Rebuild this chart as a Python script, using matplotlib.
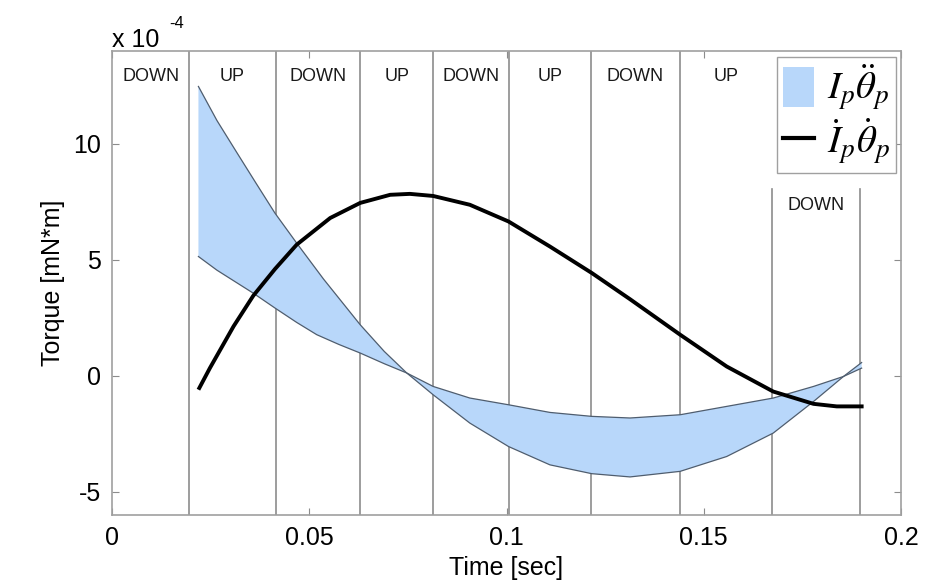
import numpy as np
import matplotlib
matplotlib.use('Agg')
import matplotlib.pyplot as plt
from matplotlib.patches import Patch
from matplotlib.lines import Line2D

plt.rcParams['font.family'] = ['Liberation Sans', 'DejaVu Sans']
plt.rcParams['mathtext.fontset'] = 'stix'

# values in units of 1e-4 mN*m
# I_p * theta_pp band: two bounding curves
t_a = [0.0219, 0.0266, 0.0316, 0.0365, 0.0413, 0.0468, 0.0536, 0.0629, 0.069, 0.0747,
       0.0814, 0.0907, 0.1005, 0.111, 0.1216, 0.1313, 0.144, 0.1558, 0.1676, 0.1778,
       0.1854, 0.19]
band_a = [12.47, 11.0, 9.63, 8.3, 7.01, 5.72, 4.17, 2.2, 1.05, 0.12,
          -0.82, -2.04, -3.05, -3.84, -4.22, -4.36, -4.12, -3.48, -2.47, -1.11,
          -0.03, 0.57]
t_b = [0.0219, 0.0266, 0.0358, 0.0413, 0.0468, 0.0519, 0.0575, 0.0629, 0.069, 0.0747,
       0.0814, 0.0907, 0.1005, 0.111, 0.1216, 0.1313, 0.144, 0.1558, 0.1676, 0.1778,
       0.1854, 0.19]
band_b = [5.14, 4.55, 3.56, 2.92, 2.3, 1.77, 1.35, 0.98, 0.52, 0.12,
          -0.46, -0.96, -1.25, -1.58, -1.75, -1.82, -1.68, -1.32, -0.96, -0.46,
          -0.03, 0.33]

# Ip_dot * theta_p_dot
t_c = [0.0219, 0.0248, 0.0308, 0.0358, 0.0413, 0.0468, 0.0553, 0.0629, 0.0705, 0.0755,
       0.0814, 0.0907, 0.1005, 0.111, 0.1216, 0.1313, 0.144, 0.1558, 0.1676, 0.1778,
       0.1837, 0.1905]
black = [-0.6, 0.33, 2.13, 3.45, 4.6, 5.65, 6.8, 7.45, 7.8, 7.84,
         7.75, 7.37, 6.65, 5.57, 4.43, 3.3, 1.77, 0.4, -0.68, -1.21,
         -1.32, -1.32]

bounds = [0.0196, 0.0415, 0.0629, 0.0814, 0.1005, 0.1214, 0.1439, 0.1673, 0.1897]
phases = ['DOWN', 'UP', 'DOWN', 'UP', 'DOWN', 'UP', 'DOWN', 'UP', 'DOWN']

fig = plt.figure(figsize=(9.51, 5.85), dpi=100)
ax = fig.add_axes([0.1178, 0.1197, 0.8297, 0.7932])

gray = '#8c8c8c'
# phase boundaries
for i, b in enumerate(bounds):
    top = 0.703 if i >= 7 else 1.0
    ax.axvline(b, ymin=0, ymax=top, color=gray, lw=1.2, zorder=1)

# phase labels
edges = [0.0] + bounds
for i, lab in enumerate(phases):
    xc = (edges[i] + edges[i + 1]) / 2
    yy = 0.944 if i < 8 else 0.668
    ax.text(xc, yy, lab, transform=ax.get_xaxis_transform(), ha='center',
            va='center', fontsize=13, color='#1a1a1a')

# band: polygon going out along one edge and back along the other
ax.fill(t_a + t_b[::-1], band_a + band_b[::-1], color='#b8d7fa', lw=0, zorder=2)
ax.plot(t_a, band_a, color='#4f5d6e', lw=0.9, zorder=3, solid_joinstyle='round')
ax.plot(t_b, band_b, color='#4f5d6e', lw=0.9, zorder=3, solid_joinstyle='round')
ax.plot(t_c, black, color='black', lw=2.8, zorder=4,
        solid_joinstyle='round', solid_capstyle='butt')

ax.set_xlim(0, 0.2)
ax.set_ylim(-6, 14)
ax.set_xticks([0, 0.05, 0.1, 0.15, 0.2])
ax.set_xticklabels(['0', '0.05', '0.1', '0.15', '0.2'])
ax.set_yticks([-5, 0, 5, 10])
ax.set_yticklabels(['-5', '0', '5', '10'])
ax.tick_params(direction='in', top=True, right=True, length=5, color=gray,
               labelsize=18, pad=8)
for s in ax.spines.values():
    s.set_color('#a0a0a0')
    s.set_linewidth(1.2)

ax.set_xlabel('Time [sec]', fontsize=18, labelpad=4)
ax.set_ylabel('Torque [mN*m]', fontsize=18, labelpad=6)
ax.text(0.0, 1.009, 'x 10', transform=ax.transAxes,
        fontsize=18, ha='left', va='baseline')
ax.text(0.073, 1.06, '-4', transform=ax.transAxes,
        fontsize=12, ha='left', va='center')

handles = [Patch(facecolor='#b8d7fa', edgecolor='none'),
           Line2D([0], [0], color='black', lw=3)]
labels = [r'$I_p\ddot{\theta}_p$', r'$\dot{I}_p\dot{\theta}_p$']
leg = ax.legend(handles, labels, loc='upper right', bbox_to_anchor=(0.994, 0.987),
                borderaxespad=0, fontsize=28, fancybox=False, framealpha=1,
                handlelength=0.78, handleheight=1.2, handletextpad=0.35,
                labelspacing=0.1, borderpad=0.15)
leg.get_frame().set_edgecolor('#a0a0a0')
leg.set_zorder(10)

plt.savefig('out.png', dpi=100)
